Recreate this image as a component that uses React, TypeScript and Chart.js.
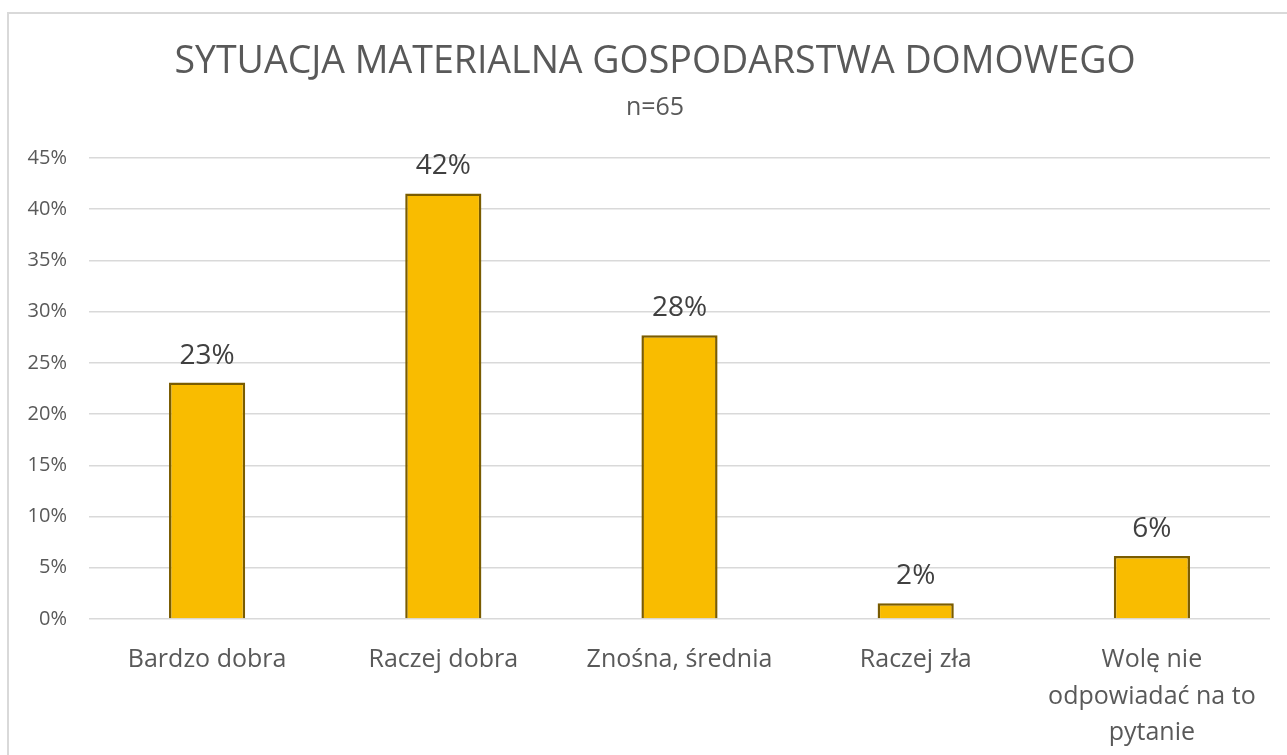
import React, { useEffect, useRef } from "react";
import { Chart, registerables } from "chart.js";

Chart.register(...registerables);

const titleText = "SYTUACJA MATERIALNA GOSPODARSTWA DOMOWEGO";
const subtitleText = "n=65";
const categories: (string | string[])[] = [
  "Bardzo dobra",
  "Raczej dobra",
  "Znośna, średnia",
  "Raczej zła",
  ["Wolę nie", "odpowiadać na to", "pytanie"],
];
const values = [23.08, 41.54, 27.69, 1.54, 6.15];
const valueLabels = ["23%", "42%", "28%", "2%", "6%"];
const yTicksMax = 45;
const yTicksStep = 5;

const FONT = "'Open Sans', 'DejaVu Sans', sans-serif";

const dataLabelPlugin = {
  id: "dataLabels",
  afterDatasetsDraw(chart: any) {
    const ctx = chart.ctx;
    const meta = chart.getDatasetMeta(0);
    ctx.save();
    ctx.font = `28px ${FONT}`;
    ctx.fillStyle = "#404040";
    ctx.textAlign = "center";
    ctx.textBaseline = "alphabetic";
    meta.data.forEach((bar: any, i: number) => {
      ctx.fillText(valueLabels[i], bar.x, bar.y - 19);
    });
    ctx.restore();
  },
};

export default function App() {
  const canvasRef = useRef<HTMLCanvasElement | null>(null);

  useEffect(() => {
    document.body.style.margin = "0";
    document.body.style.overflow = "hidden";
    const chart = new Chart(canvasRef.current as HTMLCanvasElement, {
      type: "bar",
      data: {
        labels: categories as any,
        datasets: [
          {
            data: values,
            backgroundColor: "#F9BC00",
            borderColor: "#7A5C00",
            borderWidth: 2.5,
            barPercentage: 0.645,
            categoryPercentage: 0.5,
          },
        ],
      },
      options: {
        animation: false,
        responsive: false,
        maintainAspectRatio: false,
        layout: { padding: { left: 23, right: 0, top: 0, bottom: 0 } },
        plugins: {
          legend: { display: false },
          tooltip: { enabled: false },
          title: {
            display: true,
            text: titleText,
            color: "#595959",
            font: { family: FONT, size: 37.5, weight: "normal", lineHeight: 1.2 },
            padding: { top: 40, bottom: 8 },
          },
          subtitle: {
            display: true,
            text: subtitleText,
            color: "#595959",
            font: { family: FONT, size: 25, weight: "normal", lineHeight: 1.2 },
            padding: { top: 0, bottom: 35 },
          },
        },
        scales: {
          x: {
            grid: { display: false, drawTicks: false },
            border: { display: false },
            ticks: {
              color: "#595959",
              font: { family: FONT, size: 25, lineHeight: 1.46 },
              padding: 23,
              maxRotation: 0,
              autoSkip: false,
            },
            afterFit(scale: any) {
              scale.height = 136;
            },
          },
          y: {
            min: 0,
            max: yTicksMax,
            grid: { color: "#D9D9D9", lineWidth: 1.5, drawTicks: false },
            border: { display: false },
            ticks: {
              stepSize: yTicksStep,
              color: "#595959",
              font: { family: FONT, size: 20 },
              padding: 22,
              callback: (v: any) => `${v}%`,
            },
            afterFit(scale: any) {
              scale.width = 66;
            },
          },
          yRight: {
            position: "right",
            min: 0,
            max: yTicksMax,
            grid: { display: false, drawTicks: false },
            border: { display: false },
            ticks: { display: false },
            afterFit(scale: any) {
              scale.width = 17;
            },
          },
        },
      },
      plugins: [dataLabelPlugin],
    });
    return () => chart.destroy();
  }, []);

  return (
    <div
      style={{
        position: "fixed",
        left: 0,
        top: 0,
        width: 1287,
        height: 755,
        overflow: "hidden",
        background: "#fff",
      }}
    >
      <div
        style={{
          position: "absolute",
          left: 7,
          top: 12,
          width: 1300,
          height: 800,
          border: "2px solid #D9D9D9",
          boxSizing: "border-box",
        }}
      />
      <canvas
        ref={canvasRef}
        width={1287}
        height={755}
        style={{ position: "absolute", left: 0, top: 0, width: 1287, height: 755 }}
      />
    </div>
  );
}
